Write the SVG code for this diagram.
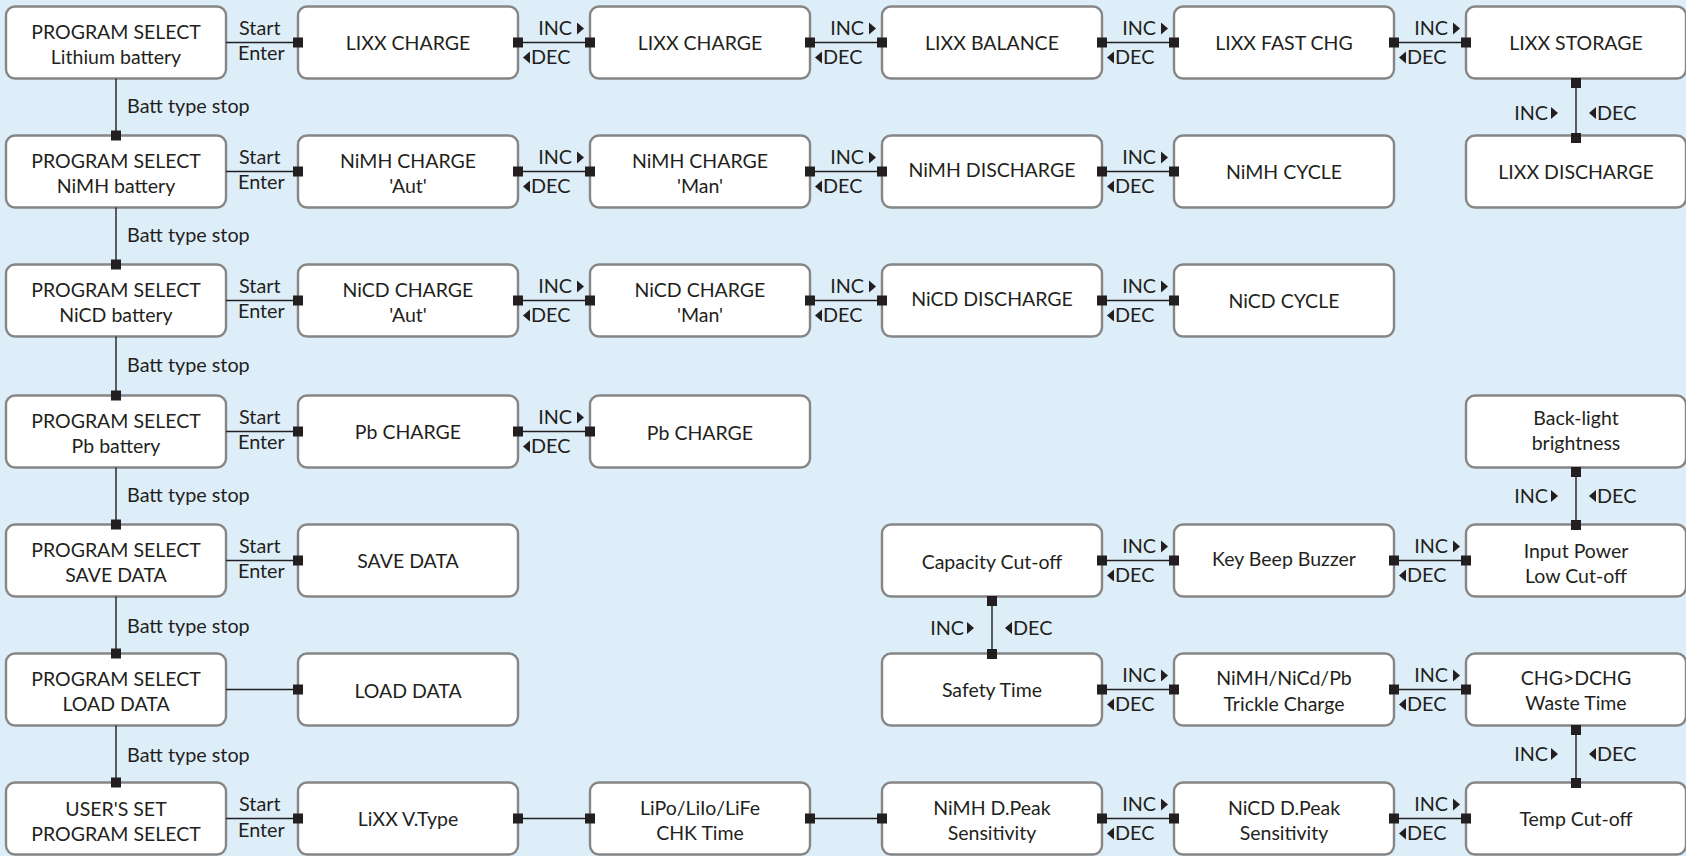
<svg xmlns="http://www.w3.org/2000/svg" xmlns:xlink="http://www.w3.org/1999/xlink" width="1686" height="856" viewBox="0 0 1686 856">
<style>
.box{fill:#fff;stroke:#868686;stroke-width:2.4}
.t{font-family:Lato,"Liberation Sans",sans-serif;font-size:19.5px;fill:#231f20;text-anchor:middle}
.l{font-family:Lato,"Liberation Sans",sans-serif;font-size:19.8px;fill:#231f20}
.e{text-anchor:end}
.ln{stroke:#231f20;stroke-width:1.4;fill:none}
.sq{fill:#231f20}
</style>
<defs>
<polygon id="tr" points="0,-6 0,6 7,0" fill="#231f20"/>
<polygon id="tl" points="7,-6 7,6 0,0" fill="#231f20"/>
</defs>
<rect width="1686" height="856" fill="#deeef9"/>

<!-- Row 1 -->
<g id="r1c1"><rect class="box" x="6" y="6.5" width="220" height="72" rx="9"/><text class="t" x="116" y="38.5">PROGRAM SELECT</text><text class="t" x="116" y="63.5">Lithium battery</text></g>
<g id="r1c2"><rect class="box" x="298" y="6.5" width="220" height="72" rx="9"/><text class="t" x="408" y="49.5">LIXX CHARGE</text></g>
<g id="r1c3"><rect class="box" x="590" y="6.5" width="220" height="72" rx="9"/><text class="t" x="700" y="49.5">LIXX CHARGE</text></g>
<g id="r1c4"><rect class="box" x="882" y="6.5" width="220" height="72" rx="9"/><text class="t" x="992" y="49.5">LIXX BALANCE</text></g>
<g id="r1c5"><rect class="box" x="1174" y="6.5" width="220" height="72" rx="9"/><text class="t" x="1284" y="49.5">LIXX FAST CHG</text></g>
<g id="r1c6"><rect class="box" x="1466" y="6.5" width="220" height="72" rx="9"/><text class="t" x="1576" y="49.5">LIXX STORAGE</text></g>

<!-- Row 2 -->
<g id="r2c1"><rect class="box" x="6" y="135.5" width="220" height="72" rx="9"/><text class="t" x="116" y="167.5">PROGRAM SELECT</text><text class="t" x="116" y="192.5">NiMH battery</text></g>
<g id="r2c2"><rect class="box" x="298" y="135.5" width="220" height="72" rx="9"/><text class="t" x="408" y="167.5">NiMH CHARGE</text><text class="t" x="408" y="192.5">'Aut'</text></g>
<g id="r2c3"><rect class="box" x="590" y="135.5" width="220" height="72" rx="9"/><text class="t" x="700" y="167.5">NiMH CHARGE</text><text class="t" x="700" y="192.5">'Man'</text></g>
<g id="r2c4"><rect class="box" x="882" y="135.5" width="220" height="72" rx="9"/><text class="t" x="992" y="177">NiMH DISCHARGE</text></g>
<g id="r2c5"><rect class="box" x="1174" y="135.5" width="220" height="72" rx="9"/><text class="t" x="1284" y="178.5">NiMH CYCLE</text></g>
<g id="r2c6"><rect class="box" x="1466" y="135.5" width="220" height="72" rx="9"/><text class="t" x="1576" y="178.5">LIXX DISCHARGE</text></g>

<!-- Row 3 -->
<g id="r3c1"><rect class="box" x="6" y="264.5" width="220" height="72" rx="9"/><text class="t" x="116" y="296.5">PROGRAM SELECT</text><text class="t" x="116" y="321.5">NiCD battery</text></g>
<g id="r3c2"><rect class="box" x="298" y="264.5" width="220" height="72" rx="9"/><text class="t" x="408" y="296.5">NiCD CHARGE</text><text class="t" x="408" y="321.5">'Aut'</text></g>
<g id="r3c3"><rect class="box" x="590" y="264.5" width="220" height="72" rx="9"/><text class="t" x="700" y="296.5">NiCD CHARGE</text><text class="t" x="700" y="321.5">'Man'</text></g>
<g id="r3c4"><rect class="box" x="882" y="264.5" width="220" height="72" rx="9"/><text class="t" x="992" y="306">NiCD DISCHARGE</text></g>
<g id="r3c5"><rect class="box" x="1174" y="264.5" width="220" height="72" rx="9"/><text class="t" x="1284" y="307.5">NiCD CYCLE</text></g>

<!-- Row 4 -->
<g id="r4c1"><rect class="box" x="6" y="395.5" width="220" height="72" rx="9"/><text class="t" x="116" y="427.5">PROGRAM SELECT</text><text class="t" x="116" y="452.5">Pb battery</text></g>
<g id="r4c2"><rect class="box" x="298" y="395.5" width="220" height="72" rx="9"/><text class="t" x="408" y="438.5">Pb CHARGE</text></g>
<g id="r4c3"><rect class="box" x="590" y="395.5" width="220" height="72" rx="9"/><text class="t" x="700" y="440">Pb CHARGE</text></g>
<g id="r4c6"><rect class="box" x="1466" y="395.5" width="220" height="72" rx="9"/><text class="t" x="1576" y="425">Back-light</text><text class="t" x="1576" y="450">brightness</text></g>

<!-- Row 5 -->
<g id="r5c1"><rect class="box" x="6" y="524.5" width="220" height="72" rx="9"/><text class="t" x="116" y="556.5">PROGRAM SELECT</text><text class="t" x="116" y="581.5">SAVE DATA</text></g>
<g id="r5c2"><rect class="box" x="298" y="524.5" width="220" height="72" rx="9"/><text class="t" x="408" y="567.5">SAVE DATA</text></g>
<g id="r5c4"><rect class="box" x="882" y="524.5" width="220" height="72" rx="9"/><text class="t" x="992" y="569">Capacity Cut-off</text></g>
<g id="r5c5"><rect class="box" x="1174" y="524.5" width="220" height="72" rx="9"/><text class="t" x="1284" y="566">Key Beep Buzzer</text></g>
<g id="r5c6"><rect class="box" x="1466" y="524.5" width="220" height="72" rx="9"/><text class="t" x="1576" y="558">Input Power</text><text class="t" x="1576" y="583">Low Cut-off</text></g>

<!-- Row 6 -->
<g id="r6c1"><rect class="box" x="6" y="653.5" width="220" height="72" rx="9"/><text class="t" x="116" y="685.5">PROGRAM SELECT</text><text class="t" x="116" y="710.5">LOAD DATA</text></g>
<g id="r6c2"><rect class="box" x="298" y="653.5" width="220" height="72" rx="9"/><text class="t" x="408" y="697.5">LOAD DATA</text></g>
<g id="r6c4"><rect class="box" x="882" y="653.5" width="220" height="72" rx="9"/><text class="t" x="992" y="697">Safety Time</text></g>
<g id="r6c5"><rect class="box" x="1174" y="653.5" width="220" height="72" rx="9"/><text class="t" x="1284" y="684.5">NiMH/NiCd/Pb</text><text class="t" x="1284" y="710.5">Trickle Charge</text></g>
<g id="r6c6"><rect class="box" x="1466" y="653.5" width="220" height="72" rx="9"/><text class="t" x="1576" y="684.5">CHG&gt;DCHG</text><text class="t" x="1576" y="709.5">Waste Time</text></g>

<!-- Row 7 -->
<g id="r7c1"><rect class="box" x="6" y="782.5" width="220" height="72" rx="9"/><text class="t" x="116" y="815.5">USER'S SET</text><text class="t" x="116" y="840.5">PROGRAM SELECT</text></g>
<g id="r7c2"><rect class="box" x="298" y="782.5" width="220" height="72" rx="9"/><text class="t" x="408" y="825.5">LiXX V.Type</text></g>
<g id="r7c3"><rect class="box" x="590" y="782.5" width="220" height="72" rx="9"/><text class="t" x="700" y="814.5">LiPo/LiIo/LiFe</text><text class="t" x="700" y="839.5">CHK Time</text></g>
<g id="r7c4"><rect class="box" x="882" y="782.5" width="220" height="72" rx="9"/><text class="t" x="992" y="814.5">NiMH D.Peak</text><text class="t" x="992" y="839.5">Sensitivity</text></g>
<g id="r7c5"><rect class="box" x="1174" y="782.5" width="220" height="72" rx="9"/><text class="t" x="1284" y="814.5">NiCD D.Peak</text><text class="t" x="1284" y="839.5">Sensitivity</text></g>
<g id="r7c6"><rect class="box" x="1466" y="782.5" width="220" height="72" rx="9"/><text class="t" x="1576" y="825.5">Temp Cut-off</text></g>

<g id="connectors">
<!-- col1 vertical -->
<path class="ln" d="M116 78.5V135.5M116 207.5V264.5M116 336.5V395.5M116 467.5V524.5M116 596.5V653.5M116 725.5V782.5"/>
<rect class="sq" x="111" y="130.5" width="10" height="10"/>
<rect class="sq" x="111" y="259.5" width="10" height="10"/>
<rect class="sq" x="111" y="390.5" width="10" height="10"/>
<rect class="sq" x="111" y="519.5" width="10" height="10"/>
<rect class="sq" x="111" y="648.5" width="10" height="10"/>
<rect class="sq" x="111" y="777.5" width="10" height="10"/>
<text class="l" x="127" y="113">Batt type stop</text>
<text class="l" x="127" y="242">Batt type stop</text>
<text class="l" x="127" y="372">Batt type stop</text>
<text class="l" x="127" y="502">Batt type stop</text>
<text class="l" x="127" y="633">Batt type stop</text>
<text class="l" x="127" y="762">Batt type stop</text>

<!-- start/enter -->
<path class="ln" d="M226 42.5H298M226 171.5H298M226 300.5H298M226 431.5H298M226 560.5H298M226 689.5H298M226 818.5H298"/>
<rect class="sq" x="293" y="37.5" width="10" height="10"/>
<rect class="sq" x="293" y="166.5" width="10" height="10"/>
<rect class="sq" x="293" y="295.5" width="10" height="10"/>
<rect class="sq" x="293" y="426.5" width="10" height="10"/>
<rect class="sq" x="293" y="555.5" width="10" height="10"/>
<rect class="sq" x="293" y="684.5" width="10" height="10"/>
<rect class="sq" x="293" y="813.5" width="10" height="10"/>
<text class="l" x="239" y="35">Start</text><text class="l" x="238" y="60">Enter</text>
<text class="l" x="239" y="164">Start</text><text class="l" x="238" y="189">Enter</text>
<text class="l" x="239" y="293">Start</text><text class="l" x="238" y="318">Enter</text>
<text class="l" x="239" y="424">Start</text><text class="l" x="238" y="449">Enter</text>
<text class="l" x="239" y="553">Start</text><text class="l" x="238" y="578">Enter</text>
<text class="l" x="239" y="811">Start</text><text class="l" x="238" y="837">Enter</text>

<!-- horizontal INC/DEC and plain links -->
<path class="ln" d="M518 42.5H590M810 42.5H882M1102 42.5H1174M1394 42.5H1466
M518 171.5H590M810 171.5H882M1102 171.5H1174
M518 300.5H590M810 300.5H882M1102 300.5H1174
M518 431.5H590
M1102 560.5H1174M1394 560.5H1466
M1102 689.5H1174M1394 689.5H1466
M518 818.5H590M810 818.5H882M1102 818.5H1174M1394 818.5H1466"/>
<g class="sq">
<rect x="513" y="37.5" width="10" height="10"/><rect x="585" y="37.5" width="10" height="10"/>
<rect x="805" y="37.5" width="10" height="10"/><rect x="877" y="37.5" width="10" height="10"/>
<rect x="1097" y="37.5" width="10" height="10"/><rect x="1169" y="37.5" width="10" height="10"/>
<rect x="1389" y="37.5" width="10" height="10"/><rect x="1461" y="37.5" width="10" height="10"/>
<rect x="513" y="166.5" width="10" height="10"/><rect x="585" y="166.5" width="10" height="10"/>
<rect x="805" y="166.5" width="10" height="10"/><rect x="877" y="166.5" width="10" height="10"/>
<rect x="1097" y="166.5" width="10" height="10"/><rect x="1169" y="166.5" width="10" height="10"/>
<rect x="513" y="295.5" width="10" height="10"/><rect x="585" y="295.5" width="10" height="10"/>
<rect x="805" y="295.5" width="10" height="10"/><rect x="877" y="295.5" width="10" height="10"/>
<rect x="1097" y="295.5" width="10" height="10"/><rect x="1169" y="295.5" width="10" height="10"/>
<rect x="513" y="426.5" width="10" height="10"/><rect x="585" y="426.5" width="10" height="10"/>
<rect x="1097" y="555.5" width="10" height="10"/><rect x="1169" y="555.5" width="10" height="10"/>
<rect x="1389" y="555.5" width="10" height="10"/><rect x="1461" y="555.5" width="10" height="10"/>
<rect x="1097" y="684.5" width="10" height="10"/><rect x="1169" y="684.5" width="10" height="10"/>
<rect x="1389" y="684.5" width="10" height="10"/><rect x="1461" y="684.5" width="10" height="10"/>
<rect x="513" y="813.5" width="10" height="10"/><rect x="585" y="813.5" width="10" height="10"/>
<rect x="805" y="813.5" width="10" height="10"/><rect x="877" y="813.5" width="10" height="10"/>
<rect x="1097" y="813.5" width="10" height="10"/><rect x="1169" y="813.5" width="10" height="10"/>
<rect x="1389" y="813.5" width="10" height="10"/><rect x="1461" y="813.5" width="10" height="10"/>
</g>

<g id="lbl-h">
<text class="l e" x="572" y="35">INC</text><use xlink:href="#tr" x="577" y="28.5"/><use xlink:href="#tl" x="523" y="57.5"/><text class="l" x="531" y="64">DEC</text>
<text class="l e" x="864" y="35">INC</text><use xlink:href="#tr" x="869" y="28.5"/><use xlink:href="#tl" x="815" y="57.5"/><text class="l" x="823" y="64">DEC</text>
<text class="l e" x="1156" y="35">INC</text><use xlink:href="#tr" x="1161" y="28.5"/><use xlink:href="#tl" x="1107" y="57.5"/><text class="l" x="1115" y="64">DEC</text>
<text class="l e" x="1448" y="35">INC</text><use xlink:href="#tr" x="1453" y="28.5"/><use xlink:href="#tl" x="1399" y="57.5"/><text class="l" x="1407" y="64">DEC</text>

<text class="l e" x="572" y="164">INC</text><use xlink:href="#tr" x="577" y="157.5"/><use xlink:href="#tl" x="523" y="186.5"/><text class="l" x="531" y="193">DEC</text>
<text class="l e" x="864" y="164">INC</text><use xlink:href="#tr" x="869" y="157.5"/><use xlink:href="#tl" x="815" y="186.5"/><text class="l" x="823" y="193">DEC</text>
<text class="l e" x="1156" y="164">INC</text><use xlink:href="#tr" x="1161" y="157.5"/><use xlink:href="#tl" x="1107" y="186.5"/><text class="l" x="1115" y="193">DEC</text>

<text class="l e" x="572" y="293">INC</text><use xlink:href="#tr" x="577" y="286.5"/><use xlink:href="#tl" x="523" y="315.5"/><text class="l" x="531" y="322">DEC</text>
<text class="l e" x="864" y="293">INC</text><use xlink:href="#tr" x="869" y="286.5"/><use xlink:href="#tl" x="815" y="315.5"/><text class="l" x="823" y="322">DEC</text>
<text class="l e" x="1156" y="293">INC</text><use xlink:href="#tr" x="1161" y="286.5"/><use xlink:href="#tl" x="1107" y="315.5"/><text class="l" x="1115" y="322">DEC</text>

<text class="l e" x="572" y="424">INC</text><use xlink:href="#tr" x="577" y="417.5"/><use xlink:href="#tl" x="523" y="446.5"/><text class="l" x="531" y="453">DEC</text>

<text class="l e" x="1156" y="553">INC</text><use xlink:href="#tr" x="1161" y="546.5"/><use xlink:href="#tl" x="1107" y="575.5"/><text class="l" x="1115" y="582">DEC</text>
<text class="l e" x="1448" y="553">INC</text><use xlink:href="#tr" x="1453" y="546.5"/><use xlink:href="#tl" x="1399" y="575.5"/><text class="l" x="1407" y="582">DEC</text>

<text class="l e" x="1156" y="682">INC</text><use xlink:href="#tr" x="1161" y="675.5"/><use xlink:href="#tl" x="1107" y="704.5"/><text class="l" x="1115" y="711">DEC</text>
<text class="l e" x="1448" y="682">INC</text><use xlink:href="#tr" x="1453" y="675.5"/><use xlink:href="#tl" x="1399" y="704.5"/><text class="l" x="1407" y="711">DEC</text>

<text class="l e" x="1156" y="811">INC</text><use xlink:href="#tr" x="1161" y="804.5"/><use xlink:href="#tl" x="1107" y="833.5"/><text class="l" x="1115" y="840">DEC</text>
<text class="l e" x="1448" y="811">INC</text><use xlink:href="#tr" x="1453" y="804.5"/><use xlink:href="#tl" x="1399" y="833.5"/><text class="l" x="1407" y="840">DEC</text>
</g>

<!-- vertical INC/DEC -->
<path class="ln" d="M1576 78.5V135.5M1576 467.5V524.5M992 596.5V653.5M1576 725.5V782.5" stroke="#4a4a4a"/>
<g class="sq">
<rect x="1571" y="78" width="10" height="10"/><rect x="1571" y="133" width="10" height="10"/>
<rect x="1571" y="467" width="10" height="10"/><rect x="1571" y="520" width="10" height="10"/>
<rect x="987" y="596" width="10" height="10"/><rect x="987" y="649" width="10" height="10"/>
<rect x="1571" y="725" width="10" height="10"/><rect x="1571" y="778" width="10" height="10"/>
</g>
<text class="l e" x="1548" y="120">INC</text><use xlink:href="#tr" x="1551" y="113"/><use xlink:href="#tl" x="1589" y="113"/><text class="l" x="1597" y="120">DEC</text>
<text class="l e" x="1548" y="503">INC</text><use xlink:href="#tr" x="1551" y="496"/><use xlink:href="#tl" x="1589" y="496"/><text class="l" x="1597" y="503">DEC</text>
<text class="l e" x="964" y="635">INC</text><use xlink:href="#tr" x="967" y="628"/><use xlink:href="#tl" x="1005" y="628"/><text class="l" x="1013" y="635">DEC</text>
<text class="l e" x="1548" y="761">INC</text><use xlink:href="#tr" x="1551" y="754"/><use xlink:href="#tl" x="1589" y="754"/><text class="l" x="1597" y="761">DEC</text>
</g>
</svg>
